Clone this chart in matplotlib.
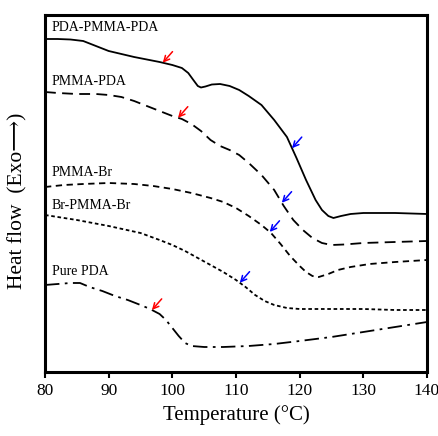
import numpy as np
import matplotlib
matplotlib.use('Agg')
import matplotlib.pyplot as plt

plt.rcParams['font.family'] = ['Liberation Serif', 'DejaVu Serif', 'DejaVu Sans']

# DSC traces (heat flow in arbitrary units, exo up)
t_pda_pmma_pda = [80, 82, 84, 86, 88, 90, 92, 94, 96, 98, 100, 101.5, 102.5, 103.3, 104, 104.5,
                  105.2, 106.2, 107.5, 109, 110.5, 112, 114, 116, 118, 119.5, 121, 122.5, 123.5,
                  124.5, 125.3, 126.5, 128, 130, 135, 140]
hf_pda_pmma_pda = [33.3, 33.3, 33.25, 33.1, 32.6, 32.1, 31.8, 31.5, 31.25, 31.0, 30.7, 30.4, 29.9,
                   29.2, 28.6, 28.45, 28.55, 28.75, 28.8, 28.6, 28.2, 27.6, 26.7, 25.2, 23.5, 21.4,
                   19.2, 17.2, 16.2, 15.6, 15.4, 15.6, 15.8, 15.9, 15.9, 15.8]

t_pmma_pda = [80, 82, 85, 88, 90, 92, 94, 96, 98, 100, 101.5, 103, 104.5, 106, 107.5, 109, 110.5,
              112, 114, 116, 117.5, 119, 120.5, 122, 123.5, 125, 127, 130, 135, 140]
hf_pmma_pda = [28.0, 27.9, 27.8, 27.8, 27.7, 27.5, 27.1, 26.6, 26.1, 25.6, 25.3, 24.8, 24.1, 23.2,
               22.6, 22.2, 21.7, 20.9, 19.7, 18.2, 16.6, 15.2, 14.2, 13.4, 12.9, 12.7, 12.75, 12.9,
               13.0, 13.1]

t_pmma_br = [80, 83, 86, 90, 94, 97, 100, 103, 106, 108, 110, 112, 114, 115.5, 117, 118.5, 120,
             121, 122, 123, 124.5, 126, 128, 131, 135, 140]
hf_pmma_br = [18.5, 18.7, 18.8, 18.9, 18.8, 18.6, 18.3, 17.9, 17.4, 17.0, 16.4, 15.6, 14.7, 13.9,
              12.8, 11.6, 10.6, 10.0, 9.6, 9.5, 9.8, 10.2, 10.5, 10.8, 11.0, 11.2]

t_br_pmma_br = [80, 82, 85, 90, 95, 98, 100, 102, 104, 106, 108, 110, 111.5, 113, 114.5, 116, 118,
                120, 125, 130, 135, 140]
hf_br_pmma_br = [15.7, 15.5, 15.2, 14.6, 13.9, 13.2, 12.7, 12.1, 11.4, 10.7, 10.0, 9.2, 8.5, 7.7,
                 7.1, 6.7, 6.4, 6.3, 6.3, 6.3, 6.2, 6.2]

t_pure_pda = [80, 82, 84, 85.5, 87, 89, 91, 93, 95, 96.5, 98, 99, 100, 101, 102, 103, 105, 108,
              112, 116, 120, 125, 130, 135, 140]
hf_pure_pda = [8.7, 8.8, 8.9, 8.9, 8.5, 8.1, 7.6, 7.2, 6.7, 6.3, 5.8, 5.2, 4.4, 3.6, 2.9, 2.6, 2.5,
               2.5, 2.6, 2.8, 3.1, 3.5, 4.0, 4.5, 5.0]

labels = ["PDA-PMMA-PDA", "PMMA-PDA", "PMMA-Br", "Br-PMMA-Br", "Pure PDA"]
label_y = [34.4, 29.0, 19.9, 16.6, 10.0]

# transition markers (temperature on each curve)
red_marks = [98.5, 100.9, 96.8]     # PDA-PMMA-PDA, PMMA-PDA, Pure PDA
blue_marks = [118.8, 117.2, 115.3, 110.6]  # PDA-PMMA-PDA, PMMA-PDA, PMMA-Br, Br-PMMA-Br

curves = [
    (t_pda_pmma_pda, hf_pda_pmma_pda, '-'),
    (t_pmma_pda, hf_pmma_pda, (0, (6, 3.5))),
    (t_pmma_br, hf_pmma_br, (0, (3.5, 2.5))),
    (t_br_pmma_br, hf_br_pmma_br, (0, (2, 1.5))),
    (t_pure_pda, hf_pure_pda, (0, (8, 3, 1.5, 3))),
]

fig = plt.figure(figsize=(4.39, 4.36), dpi=100)
ax = fig.add_axes([0.1025, 0.1468, 0.8702, 0.8188])

for t, hf, ls in curves:
    ax.plot(t, hf, color='black', lw=1.3, linestyle=ls)

for name, y in zip(labels, label_y):
    ax.text(81.1, y, name, fontsize=10, va='center', ha='left')


def mark(curve_idx, temp, color):
    t, hf, _ = curves[curve_idx]
    y = np.interp(temp, t, hf)
    ax.annotate('', xy=(temp, y), xytext=(7, 8), textcoords='offset points',
                arrowprops=dict(arrowstyle='->', color=color, lw=1.1,
                                shrinkA=0, shrinkB=0))


for idx, temp in zip([0, 1, 4], red_marks):
    mark(idx, temp, 'red')
for idx, temp in zip([0, 1, 2, 3], blue_marks):
    mark(idx, temp, 'blue')

ax.set_xlim(80, 140)
ax.set_ylim(0, 35.7)
ax.set_xticks(range(80, 141, 10))
ax.set_yticks([])
ax.tick_params(axis='x', direction='out', length=4, width=1.5, labelsize=12.5, pad=4)
for sp in ax.spines.values():
    sp.set_linewidth(2.2)

ax.set_xlabel("Temperature (\u00b0C)", fontsize=15, labelpad=4)
ax.set_ylabel("Heat flow  (Exo\u27f6)", fontsize=15.5)
ax.yaxis.set_label_coords(-0.045, 0.48)

fig.savefig('out.png', dpi=100)
